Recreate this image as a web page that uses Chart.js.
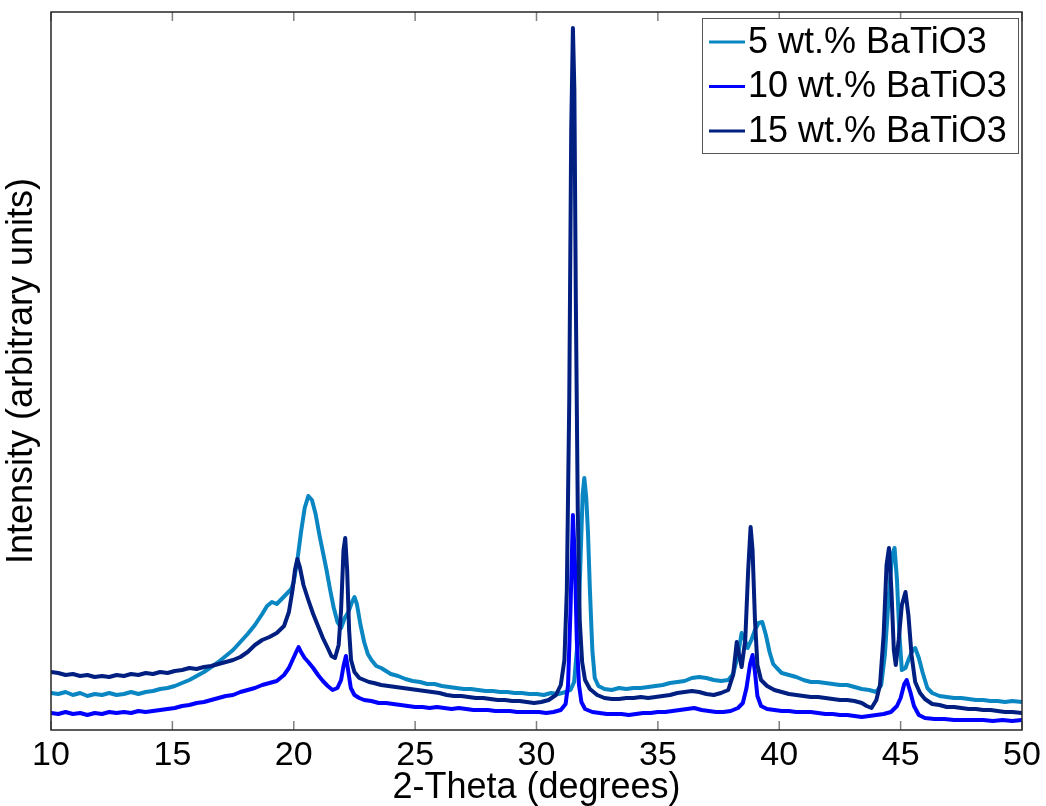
<!DOCTYPE html>
<html>
<head>
<meta charset="utf-8">
<script src="https://cdn.jsdelivr.net/npm/chart.js@4/dist/chart.umd.min.js"></script>
<style>
body{margin:0;background:#fff;}
canvas{display:block;}
</style>
</head>
<body>
<canvas id="xrd" width="1046" height="806"></canvas>
<script>

// [2-theta, intensity], arbitrary units
const series5=[
[10.0,37],[10.3,36],[10.6,38],[10.9,35],[11.2,37],[11.5,34],[11.8,36],[12.1,35],[12.4,37],[12.7,35],
[13.0,36],[13.3,38],[13.6,36],[13.9,38],[14.2,39],[14.5,41],[14.8,42],[15.1,44],[15.4,47],[15.7,50],
[16.0,54],[16.3,58],[16.6,63],[16.9,68],[17.2,74],[17.5,80],[17.8,88],[18.1,96],[18.4,105],[18.7,116],
[18.9,124],[19.1,128],[19.3,126],[19.5,131],[19.7,136],[19.9,141],[20.0,148],[20.15,170],[20.3,198],[20.45,222],
[20.6,234],[20.75,230],[20.9,216],[21.05,196],[21.2,178],[21.35,160],[21.5,140],[21.65,122],[21.8,108],[21.95,102],
[22.1,112],[22.25,118],[22.4,128],[22.5,133],[22.6,126],[22.75,105],[22.9,88],[23.05,76],[23.2,70],[23.4,64],
[23.6,62],[23.8,59],[24.0,56],[24.3,54],[24.6,51],[24.9,49],[25.2,48],[25.5,46],[25.8,46],[26.1,44],
[26.4,43],[26.7,42],[27.0,41],[27.3,41],[27.6,40],[27.9,39],[28.2,39],[28.5,38],[28.8,38],[29.1,37],
[29.4,37],[29.7,36],[30.0,36],[30.3,35],[30.6,37],[30.9,36],[31.2,38],[31.4,40],[31.55,48],[31.7,90],
[31.8,160],[31.9,235],[31.97,252],[32.05,232],[32.12,198],[32.2,140],[32.3,80],[32.4,52],[32.55,44],[32.8,41],
[33.1,40],[33.4,42],[33.7,41],[34.0,42],[34.3,42],[34.6,43],[34.9,44],[35.2,45],[35.5,47],[35.8,48],
[36.1,49],[36.4,52],[36.7,53],[37.0,52],[37.3,50],[37.6,49],[37.9,50],[38.1,56],[38.3,75],[38.45,97],
[38.55,92],[38.7,82],[38.85,90],[39.0,100],[39.15,107],[39.3,108],[39.45,95],[39.6,78],[39.75,66],[39.9,62],
[40.1,57],[40.4,55],[40.7,53],[41.0,50],[41.3,48],[41.6,48],[41.9,47],[42.2,46],[42.5,45],[42.8,45],
[43.1,43],[43.4,41],[43.7,40],[44.0,38],[44.2,45],[44.35,75],[44.5,130],[44.65,175],[44.75,182],[44.85,150],
[44.95,95],[45.05,60],[45.2,62],[45.35,72],[45.5,80],[45.6,82],[45.75,72],[45.9,58],[46.1,42],[46.3,37],
[46.6,34],[46.9,33],[47.2,32],[47.5,32],[47.8,31],[48.1,30],[48.4,30],[48.7,29],[49.0,29],[49.3,28],
[49.6,29],[50.0,28]
];

const series10=[
[10.0,17],[10.3,16],[10.6,18],[10.9,16],[11.2,17],[11.5,15],[11.8,17],[12.1,16],[12.4,18],[12.7,17],
[13.0,18],[13.3,17],[13.6,19],[13.9,18],[14.2,19],[14.5,20],[14.8,21],[15.1,22],[15.4,24],[15.7,25],
[16.0,27],[16.3,28],[16.6,30],[16.9,32],[17.2,34],[17.5,35],[17.8,38],[18.1,40],[18.4,42],[18.7,45],
[19.0,47],[19.3,49],[19.6,55],[19.8,62],[19.95,70],[20.1,78],[20.2,83],[20.3,78],[20.45,72],[20.6,68],
[20.8,62],[21.0,55],[21.2,49],[21.4,44],[21.6,40],[21.8,42],[21.95,50],[22.05,64],[22.15,74],[22.25,58],
[22.35,42],[22.5,35],[22.7,32],[22.9,30],[23.2,29],[23.5,27],[23.8,27],[24.1,26],[24.4,25],[24.7,24],
[25.0,23],[25.3,23],[25.6,22],[25.9,23],[26.2,22],[26.5,21],[26.8,22],[27.1,21],[27.4,20],[27.7,20],
[28.0,20],[28.3,19],[28.6,19],[28.9,19],[29.2,18],[29.5,18],[29.8,18],[30.1,18],[30.4,17],[30.7,18],
[31.0,20],[31.2,26],[31.3,45],[31.4,120],[31.5,215],[31.58,170],[31.66,90],[31.75,45],[31.85,28],[32.0,21],
[32.3,18],[32.6,17],[32.9,16],[33.2,16],[33.5,16],[33.8,15],[34.1,16],[34.4,17],[34.7,17],[35.0,18],
[35.3,18],[35.6,19],[35.9,20],[36.2,21],[36.5,22],[36.8,20],[37.1,19],[37.4,18],[37.7,18],[38.0,19],
[38.3,22],[38.5,27],[38.65,42],[38.8,66],[38.9,75],[39.0,58],[39.1,34],[39.25,24],[39.5,21],[39.8,20],
[40.1,19],[40.4,19],[40.7,18],[41.0,18],[41.3,18],[41.6,17],[41.9,16],[42.2,16],[42.5,15],[42.8,15],
[43.1,14],[43.4,13],[43.7,14],[44.0,15],[44.3,16],[44.6,18],[44.85,24],[45.0,32],[45.15,46],[45.25,50],
[45.4,38],[45.55,24],[45.75,15],[46.0,12],[46.4,11],[46.8,11],[47.2,10],[47.6,10],[48.0,10],[48.4,10],
[48.8,9],[49.2,10],[49.6,9],[50.0,10]
];

const series15=[
[10.0,58],[10.3,57],[10.6,55],[10.9,56],[11.2,54],[11.5,55],[11.8,53],[12.1,54],[12.4,53],[12.7,55],
[13.0,54],[13.3,56],[13.6,55],[13.9,57],[14.2,56],[14.5,58],[14.8,57],[15.1,59],[15.4,60],[15.7,62],
[16.0,61],[16.3,63],[16.6,64],[16.9,66],[17.2,68],[17.5,70],[17.8,73],[18.1,78],[18.4,85],[18.7,90],
[19.0,93],[19.3,97],[19.6,104],[19.8,118],[19.95,140],[20.05,160],[20.15,171],[20.25,163],[20.4,145],[20.6,130],
[20.8,116],[21.0,104],[21.2,92],[21.4,82],[21.55,74],[21.7,72],[21.85,85],[21.95,120],[22.05,180],[22.12,192],
[22.2,160],[22.28,100],[22.36,70],[22.5,58],[22.7,52],[22.9,50],[23.1,48],[23.3,47],[23.6,45],[23.9,44],
[24.2,43],[24.5,42],[24.8,41],[25.1,40],[25.4,39],[25.7,38],[26.0,37],[26.3,35],[26.6,34],[26.9,34],
[27.2,33],[27.5,32],[27.8,32],[28.1,31],[28.4,30],[28.7,30],[29.0,29],[29.3,29],[29.6,28],[29.9,27],
[30.2,28],[30.5,30],[30.8,35],[31.0,45],[31.15,70],[31.25,140],[31.35,330],[31.43,600],[31.5,702],[31.56,640],
[31.62,430],[31.7,220],[31.78,110],[31.88,68],[32.0,50],[32.2,41],[32.5,35],[32.8,32],[33.1,31],[33.4,31],
[33.7,32],[34.0,32],[34.3,33],[34.6,32],[34.9,33],[35.2,34],[35.5,35],[35.8,37],[36.1,38],[36.4,39],
[36.7,38],[37.0,36],[37.3,35],[37.6,37],[37.9,40],[38.1,55],[38.25,88],[38.35,75],[38.45,63],[38.6,90],
[38.72,160],[38.82,203],[38.9,180],[39.0,110],[39.1,65],[39.25,50],[39.5,44],[39.8,40],[40.1,38],[40.4,36],
[40.7,35],[41.0,34],[41.3,33],[41.6,33],[41.9,32],[42.2,31],[42.5,30],[42.8,30],[43.1,29],[43.4,27],
[43.6,24],[43.8,22],[44.0,30],[44.15,45],[44.3,95],[44.42,165],[44.52,182],[44.62,140],[44.72,80],[44.8,65],
[44.92,90],[45.05,125],[45.2,138],[45.32,115],[45.45,75],[45.6,48],[45.8,37],[46.0,31],[46.3,26],[46.6,25],
[46.9,23],[47.2,23],[47.5,22],[47.8,21],[48.1,21],[48.4,20],[48.7,20],[49.0,19],[49.3,18],[49.6,18],
[50.0,17]
];

const seriesLabels=["5 wt.% BaTiO3","10 wt.% BaTiO3","15 wt.% BaTiO3"];
const seriesColors=["#0a86c3","#0000ff","#001f80"];
const xTicks=[10,15,20,25,30,35,40,45,50];

const FONT="Arial, 'Liberation Sans', sans-serif";

// matlab style box: frame, inward ticks top and bottom, legend in corner
const matlabBox={
id:"matlabBox",
afterDatasetsDraw(chart){
const ctx=chart.ctx;
const a=chart.chartArea;
const x=chart.scales.x;
ctx.save();
ctx.strokeStyle="#808080";
ctx.lineWidth=1.5;
xTicks.forEach(v=>{
const px=x.getPixelForValue(v);
ctx.beginPath();
ctx.moveTo(px,a.bottom);ctx.lineTo(px,a.bottom-9);
ctx.moveTo(px,a.top);ctx.lineTo(px,a.top+9);
ctx.stroke();
});
ctx.strokeStyle="#262626";
ctx.lineWidth=1.5;
ctx.strokeRect(a.left,a.top,a.right-a.left,a.bottom-a.top);

// legend
const lx=702,ly=18,lw=316,lh=135;
ctx.fillStyle="#fff";
ctx.fillRect(lx,ly,lw,lh);
ctx.strokeStyle="#555";
ctx.lineWidth=1;
ctx.strokeRect(lx+0.5,ly+0.5,lw,lh);
ctx.font="36px "+FONT;
ctx.textBaseline="middle";
ctx.textAlign="left";
seriesLabels.forEach((lab,i)=>{
const yy=ly+24+i*44.5;
ctx.strokeStyle=seriesColors[i];
ctx.lineWidth=3;
ctx.beginPath();
ctx.moveTo(709,yy);ctx.lineTo(745,yy);
ctx.stroke();
ctx.fillStyle="#000";
ctx.fillText(lab,748,yy+1);
});
ctx.restore();
}
};

const toPts=arr=>arr.map(p=>({x:p[0],y:p[1]}));

new Chart(document.getElementById("xrd"),{
type:"line",
data:{
datasets:[
{label:seriesLabels[0],data:toPts(series5),borderColor:seriesColors[0],order:2},
{label:seriesLabels[1],data:toPts(series10),borderColor:seriesColors[1],order:1},
{label:seriesLabels[2],data:toPts(series15),borderColor:seriesColors[2],order:0}
]
},
options:{
responsive:false,
animation:false,
parsing:false,
layout:{padding:{left:0,top:12,right:24,bottom:0}},
elements:{
line:{borderWidth:4,tension:0,borderJoinStyle:"round",borderCapStyle:"round"},
point:{radius:0}
},
plugins:{legend:{display:false},tooltip:{enabled:false}},
scales:{
x:{
type:"linear",
min:10,max:50,
afterBuildTicks:s=>{s.ticks=xTicks.map(v=>({value:v}));},
afterFit:s=>{s.height=76;},
grid:{display:false,drawTicks:false},
border:{display:false},
ticks:{color:"#000",padding:5,maxRotation:0,font:{family:FONT,size:34}},
title:{display:true,text:"2-Theta (degrees)",color:"#000",padding:{top:0,bottom:0},font:{family:FONT,size:36,lineHeight:1}}
},
y:{
min:0,max:718,
afterFit:s=>{s.width=51;},
grid:{display:false,drawTicks:false},
border:{display:false},
ticks:{display:false},
title:{display:true,text:"Intensity (arbitrary units)",color:"#000",padding:{top:4,bottom:0},font:{family:FONT,size:36,lineHeight:1}}
}
}
},
plugins:[matlabBox]
});

</script>
</body>
</html>
